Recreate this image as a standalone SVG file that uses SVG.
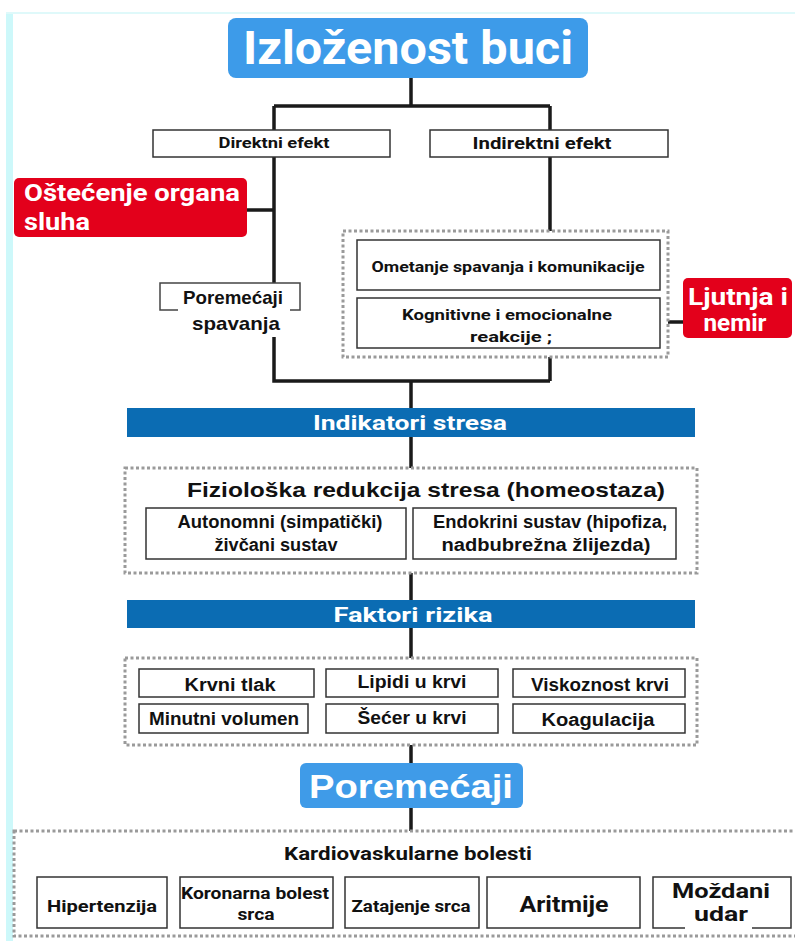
<svg xmlns="http://www.w3.org/2000/svg" width="795" height="941" viewBox="0 0 795 941">
<style>
.bx{fill:#fff;stroke:#333;stroke-width:1.5}
.dot{fill:none;stroke:#9a9a9a;stroke-width:3;stroke-dasharray:3 2.5}
.ln{fill:none;stroke:#1a1a1a;stroke-width:3.5}
.t{font-family:Roboto,"Liberation Sans",sans-serif;font-weight:bold;fill:#111;text-anchor:middle}
.a{font-family:"Liberation Sans",Arial,sans-serif;font-weight:bold;fill:#111;text-anchor:middle}
.w{fill:#fff}
.st{text-anchor:start}
</style>
<rect width="795" height="941" fill="#fff"/>
<rect x="6" y="13" width="7" height="928" fill="#cdf8fa"/>
<rect x="6" y="12" width="789" height="2" fill="#dff9fa"/>

<g id="connectors">
<path class="ln" d="M411 78V106M274 106H550M274 106V130M550 106V130"/>
<path class="ln" d="M274 157V283M247 210H274M550 157V231"/>
<path class="ln" d="M274 337V381H550M550 357V381M411 381V408"/>
<path class="ln" d="M668 322H684"/>
<path class="ln" d="M411 437V468M411 573V600M411 628V658M411 745V763M411 808V831"/>
</g>

<g id="n-title">
<rect x="228" y="18" width="360" height="60" rx="8" fill="#3d9be9"/>
<text class="t w" x="408" y="64" font-size="46" textLength="330" lengthAdjust="spacingAndGlyphs">Izloženost buci</text>
</g>
<g id="n-direktni">
<rect class="bx" x="153" y="130" width="237" height="27"/>
<text class="t" x="274" y="148" font-size="15" textLength="111" lengthAdjust="spacingAndGlyphs">Direktni efekt</text>
</g>
<g id="n-indirektni">
<rect class="bx" x="430" y="130" width="238" height="27"/>
<text class="t" x="542" y="149" font-size="16" textLength="139" lengthAdjust="spacingAndGlyphs">Indirektni efekt</text>
</g>
<g id="n-ostecenje">
<rect x="14" y="178" width="233" height="59" rx="5" fill="#e3001b"/>
<text class="t w st" x="24" y="201" font-size="23" textLength="216" lengthAdjust="spacingAndGlyphs">Oštećenje organa</text>
<text class="t w st" x="24" y="230" font-size="23" textLength="66" lengthAdjust="spacingAndGlyphs">sluha</text>
</g>
<g id="n-poremecaji-spavanja">
<path fill="none" stroke="#444" stroke-width="1.5" d="M178 310H160V283H300V310H290"/>
<text class="a" x="233" y="304" font-size="19" textLength="100" lengthAdjust="spacingAndGlyphs">Poremećaji</text>
<text class="a" x="236" y="330" font-size="19" textLength="88" lengthAdjust="spacingAndGlyphs">spavanja</text>
</g>
<g id="n-indirect-group">
<rect class="dot" x="343" y="231" width="325" height="126"/>
</g>
<g id="n-ometanje">
<rect class="bx" x="357" y="240" width="303" height="50"/>
<text class="t" x="508" y="272" font-size="15" textLength="273" lengthAdjust="spacingAndGlyphs">Ometanje spavanja i komunikacije</text>
</g>
<g id="n-kognitivne">
<rect class="bx" x="357" y="298" width="303" height="50"/>
<text class="t" x="507" y="320" font-size="15" textLength="210" lengthAdjust="spacingAndGlyphs">Kognitivne i emocionalne</text>
<text class="t" x="511" y="342" font-size="15" textLength="82" lengthAdjust="spacingAndGlyphs">reakcije ;</text>
</g>
<g id="n-ljutnja">
<rect x="683" y="278" width="109" height="60" rx="5" fill="#e3001b"/>
<text class="t w" x="738" y="305" font-size="23" textLength="100" lengthAdjust="spacingAndGlyphs">Ljutnja i</text>
<text class="t w" x="735" y="331" font-size="23" textLength="63" lengthAdjust="spacingAndGlyphs">nemir</text>
</g>
<g id="n-indikatori">
<rect x="127" y="408" width="568" height="29" fill="#0b6cb3"/>
<text class="t w" x="410" y="430" font-size="20" textLength="194" lengthAdjust="spacingAndGlyphs">Indikatori stresa</text>
</g>
<g id="n-fizioloska">
<rect class="dot" x="125" y="468" width="572" height="105"/>
<text class="a" x="426" y="497" font-size="21" textLength="478" lengthAdjust="spacingAndGlyphs">Fiziološka redukcija stresa (homeostaza)</text>
</g>
<g id="n-autonomni">
<rect class="bx" x="146" y="508" width="260" height="51"/>
<text class="a" x="280" y="528" font-size="17.5" textLength="205" lengthAdjust="spacingAndGlyphs">Autonomni (simpatički)</text>
<text class="a" x="276" y="551" font-size="17.5" textLength="123" lengthAdjust="spacingAndGlyphs">živčani sustav</text>
</g>
<g id="n-endokrini">
<rect class="bx" x="413" y="508" width="263" height="51"/>
<text class="a" x="550" y="528" font-size="17.5" textLength="234" lengthAdjust="spacingAndGlyphs">Endokrini sustav (hipofiza,</text>
<text class="a" x="546" y="551" font-size="17.5" textLength="209" lengthAdjust="spacingAndGlyphs">nadbubrežna žlijezda)</text>
</g>
<g id="n-faktori">
<rect x="127" y="600" width="568" height="28" fill="#0b6cb3"/>
<text class="t w" x="413" y="622" font-size="21" textLength="159" lengthAdjust="spacingAndGlyphs">Faktori rizika</text>
</g>
<g id="n-faktori-group">
<rect class="dot" x="125" y="658" width="572" height="87"/>
</g>
<g id="n-krvni-tlak">
<rect class="bx" x="139" y="669" width="175" height="28"/>
<text class="a" x="230" y="691" font-size="17.5" textLength="91" lengthAdjust="spacingAndGlyphs">Krvni tlak</text>
</g>
<g id="n-lipidi">
<rect class="bx" x="326" y="669" width="172" height="28"/>
<text class="a" x="412" y="688" font-size="17.5" textLength="109" lengthAdjust="spacingAndGlyphs">Lipidi u krvi</text>
</g>
<g id="n-viskoznost">
<rect class="bx" x="513" y="669" width="172" height="28"/>
<text class="a" x="600" y="691" font-size="17.5" textLength="138" lengthAdjust="spacingAndGlyphs">Viskoznost krvi</text>
</g>
<g id="n-minutni">
<rect class="bx" x="139" y="704" width="169" height="29"/>
<text class="a" x="224" y="725" font-size="17.5" textLength="150" lengthAdjust="spacingAndGlyphs">Minutni volumen</text>
</g>
<g id="n-secer">
<rect class="bx" x="326" y="704" width="172" height="29"/>
<text class="a" x="412" y="724" font-size="17.5" textLength="109" lengthAdjust="spacingAndGlyphs">Šećer u krvi</text>
</g>
<g id="n-koagulacija">
<rect class="bx" x="513" y="704" width="172" height="29"/>
<text class="a" x="598" y="726" font-size="17.5" textLength="113" lengthAdjust="spacingAndGlyphs">Koagulacija</text>
</g>
<g id="n-poremecaji">
<rect x="300" y="763" width="223" height="45" rx="6" fill="#3f9be8"/>
<text class="a w" x="411" y="798" font-size="34" textLength="204" lengthAdjust="spacingAndGlyphs">Poremećaji</text>
</g>
<g id="n-kardio">
<rect class="dot" x="14" y="831" width="790" height="105"/>
<text class="t" x="408" y="860" font-size="18" textLength="248" lengthAdjust="spacingAndGlyphs">Kardiovaskularne bolesti</text>
</g>
<g id="n-hipertenzija">
<rect class="bx" x="37" y="877" width="130" height="51"/>
<text class="t" x="102" y="912" font-size="17" textLength="110" lengthAdjust="spacingAndGlyphs">Hipertenzija</text>
</g>
<g id="n-koronarna">
<rect class="bx" x="180" y="877" width="153" height="51"/>
<text class="t" x="255" y="899" font-size="16" textLength="148" lengthAdjust="spacingAndGlyphs">Koronarna bolest</text>
<text class="t" x="256" y="920" font-size="16" textLength="37" lengthAdjust="spacingAndGlyphs">srca</text>
</g>
<g id="n-zatajenje">
<rect class="bx" x="345" y="877" width="134" height="51"/>
<text class="t" x="411" y="912" font-size="16" textLength="119" lengthAdjust="spacingAndGlyphs">Zatajenje srca</text>
</g>
<g id="n-aritmije">
<rect class="bx" x="487" y="877" width="153" height="51"/>
<text class="t" x="564" y="912" font-size="22" textLength="89" lengthAdjust="spacingAndGlyphs">Aritmije</text>
</g>
<g id="n-mozdani">
<path fill="none" stroke="#333" stroke-width="1.5" d="M685 928H653V877H791V928H752"/>
<text class="t" x="721" y="898" font-size="21" textLength="98" lengthAdjust="spacingAndGlyphs">Moždani</text>
<text class="t" x="721" y="921" font-size="21" textLength="54" lengthAdjust="spacingAndGlyphs">udar</text>
</g>
</svg>
